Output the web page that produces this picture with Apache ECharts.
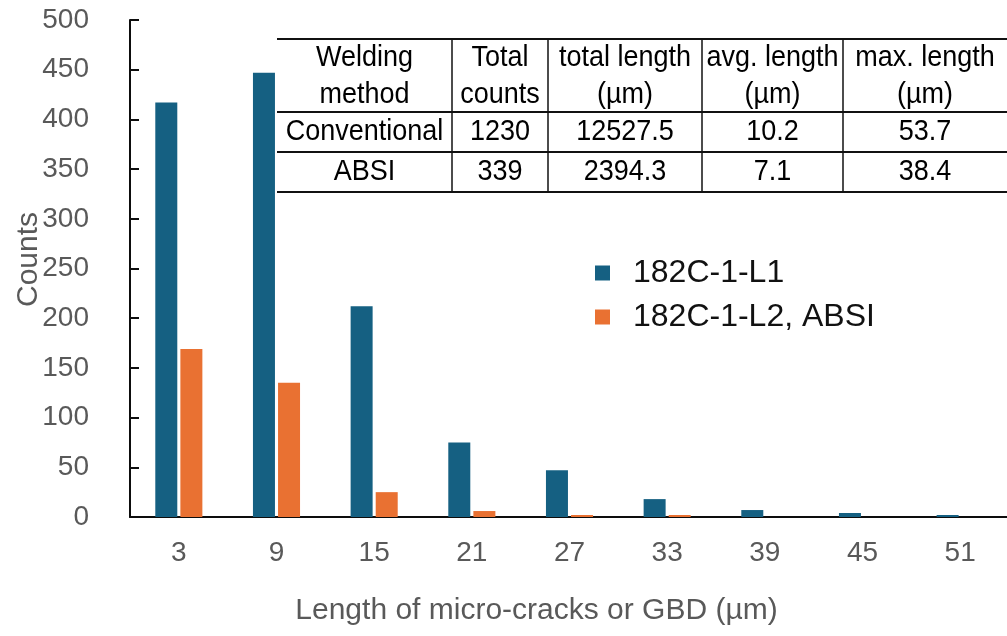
<!DOCTYPE html>
<html>
<head>
<meta charset="utf-8">
<script src="https://cdn.jsdelivr.net/npm/echarts@6/dist/echarts.min.js"></script>
<style>html,body{margin:0;padding:0;background:#fff}#c{width:1007px;height:636px}</style>
</head>
<body>
<div id="c"></div>
<script>
const categories = ['3', '9', '15', '21', '27', '33', '39', '45', '51'];
const seriesNames = ['182C-1-L1', '182C-1-L2, ABSI'];
const conventional = [417, 447, 212, 75, 47, 18, 7, 4, 2];
const absi = [169, 135, 25, 6, 2, 2, 0, 0, 0];
const yTicks = [0, 50, 100, 150, 200, 250, 300, 350, 400, 450, 500];
const tableHeader = [['Welding', 'method'], ['Total', 'counts'], ['total length', '(µm)'], ['avg. length', '(µm)'], ['max. length', '(µm)']];
const tableRows = [
  ['Conventional', '1230', '12527.5', '10.2', '53.7'],
  ['ABSI', '339', '2394.3', '7.1', '38.4']
];

// table layout (presentation only)
const colX = [277, 452, 548, 702, 843, 1007];
const rowY = [39, 112, 152, 192];
const tFont = "'Liberation Sans', Arial, sans-serif";
const tSize = 30;
const tScale = 0.9;
const graphic = [];
rowY.forEach(y => graphic.push({type: 'line', shape: {x1: colX[0], y1: y, x2: colX[5], y2: y}, style: {stroke: '#111', lineWidth: 2}}));
for (let i = 1; i < colX.length - 1; i++) {
  graphic.push({type: 'line', shape: {x1: colX[i], y1: rowY[0], x2: colX[i], y2: rowY[3]}, style: {stroke: '#111', lineWidth: 1.5}});
}
function cellText(t, cx, cy) {
  graphic.push({type: 'text', x: cx, y: cy, scaleX: tScale, style: {text: t, font: tSize + 'px ' + tFont, fill: '#000', align: 'center', verticalAlign: 'middle'}});
}
tableHeader.forEach((h, i) => {
  const cx = (colX[i] + colX[i + 1]) / 2;
  cellText(h[0], cx, 58);
  cellText(h[1], cx, 95);
});
tableRows.forEach((r, ri) => {
  const cy = (rowY[ri + 1] + rowY[ri + 2]) / 2;
  r.forEach((t, i) => cellText(t, (colX[i] + colX[i + 1]) / 2, cy));
});

const chart = echarts.init(document.getElementById('c'), null, {renderer: 'canvas'});
const font = "'Liberation Sans', Arial, sans-serif";
chart.setOption({
  animation: false,
  backgroundColor: '#fff',
  textStyle: {fontFamily: font},
  grid: {left: 130, right: -2, top: 20, bottom: 119, containLabel: false, outerBoundsMode: 'none'},
  legend: {
    orient: 'vertical', left: 590, top: 252,
    itemWidth: 15, itemHeight: 15, itemGap: 12,
    icon: 'rect',
    textStyle: {fontSize: 32, color: '#111', fontFamily: font, padding: [0, 0, 0, 18]},
    data: seriesNames
  },
  xAxis: {
    type: 'category', data: categories,
    name: 'Length of micro-cracks or GBD (µm)', nameLocation: 'middle', nameGap: 79,
    nameMoveOverlap: false,
    nameTextStyle: {fontSize: 30, color: '#595959', fontFamily: font, padding: [0, 66, 0, 0]},
    axisLine: {lineStyle: {color: '#0d0d0d', width: 2}},
    axisTick: {inside: true, length: 9, lineStyle: {color: '#0d0d0d', width: 2}},
    axisLabel: {fontSize: 28, color: '#595959', margin: 22}
  },
  yAxis: {
    type: 'value', min: 0, max: 500, interval: 50,
    name: 'Counts', nameLocation: 'middle', nameGap: 86, nameRotate: 90,
    nameMoveOverlap: false,
    nameTextStyle: {fontSize: 30, color: '#595959', fontFamily: font, padding: [0, 0, 0, 18]},
    splitLine: {show: false},
    axisLine: {show: true, lineStyle: {color: '#0d0d0d', width: 2}},
    axisTick: {show: true, inside: true, length: 9, lineStyle: {color: '#0d0d0d', width: 2}},
    axisLabel: {fontSize: 28, color: '#595959', margin: 41, formatter: v => yTicks.includes(v) ? String(v) : ''}
  },
  series: [
    {name: seriesNames[0], type: 'bar', data: conventional, barWidth: 22, barGap: '14%', itemStyle: {color: '#156082'}},
    {name: seriesNames[1], type: 'bar', data: absi, barWidth: 22, barGap: '14%', itemStyle: {color: '#E97132'}}
  ],
  graphic: graphic
});
</script>
</body>
</html>
